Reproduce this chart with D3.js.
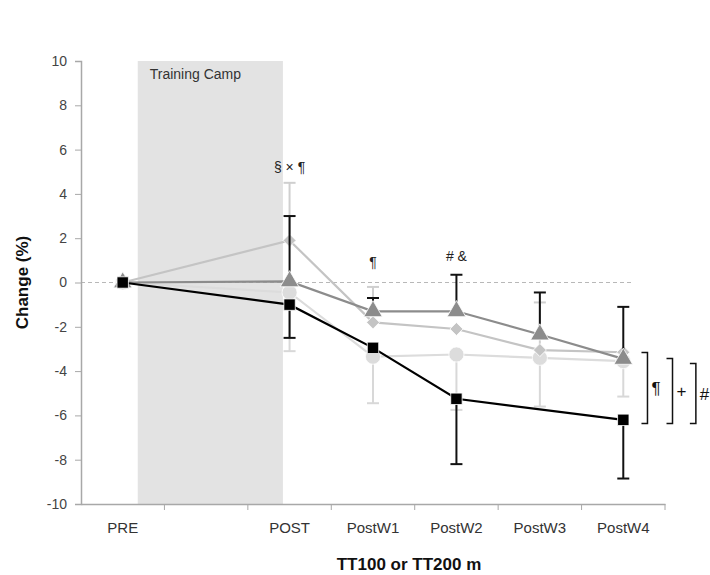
<!DOCTYPE html>
<html>
<head>
<meta charset="utf-8">
<script src="https://cdn.jsdelivr.net/npm/d3@7"></script>
<style>
  body { margin: 0; background: #fff; }
  text { font-family: "Liberation Sans", Arial, sans-serif; }
</style>
</head>
<body>
<script>
// categories (the blank slot is the training camp gap)
const categories = ["PRE", "", "POST", "PostW1", "PostW2", "PostW3", "PostW4"];
const yTicks = [-10, -8, -6, -4, -2, 0, 2, 4, 6, 8, 10];

// series values (change %), null = no point
const circleVals = [0, null, -0.45, -3.35, -3.25, -3.4, -3.55];
const circleErrDown = [0, null, 2.65, 2.1, 2.5, 2.2, 1.6];
const diamondVals = [0, null, 1.9, -1.8, -2.1, -3.05, -3.15];
const diamondErrUp = [0, null, 2.6, 1.6, 0, 2.15, 0];
const triVals = [0, null, 0.05, -1.3, -1.3, -2.35, -3.45];
const triErrUp = [0, null, 2.95, 0.6, 1.65, 1.9, 2.35];
const squareVals = [0, null, -1.0, -2.95, -5.25, null, -6.2];
const squareErrDown = [0, null, 1.5, 0, 2.95, null, 2.65];

// training camp span, in category index units
const campSpan = [0.18, 1.92];

const svg = d3.select("body")
    .append("svg")
    .attr("width", 710)
    .attr("height", 575);

const x = d3.scaleBand()
    .domain(categories.map((d, i) => i))
    .range([81, 665]);

const xi = d3.scaleLinear()
    .domain([0, 6])
    .range([x(0) + x.bandwidth() / 2, x(6) + x.bandwidth() / 2]);

const y = d3.scaleLinear()
    .domain([-10, 10])
    .range([504, 61]);

// shaded training camp
svg.append("rect")
    .attr("x", xi(campSpan[0]))
    .attr("y", y(10))
    .attr("width", xi(campSpan[1]) - xi(campSpan[0]))
    .attr("height", y(-10) - y(10))
    .attr("fill", "#e3e3e3");

svg.append("text")
    .text("Training Camp")
    .attr("x", xi(campSpan[0]) + 12)
    .attr("y", y(10) + 18)
    .style("font-size", "14px")
    .attr("fill", "#333");

// zero dashed line
svg.append("line")
    .attr("x1", x.range()[0])
    .attr("x2", xi(6.12))
    .attr("y1", y(0))
    .attr("y2", y(0))
    .attr("stroke", "#b8b8b8")
    .attr("stroke-width", 1)
    .attr("stroke-dasharray", "4,3");

// y axis
const yAxis = svg.append("g")
    .attr("transform", `translate(${x.range()[0]},0)`)
    .call(d3.axisLeft(y).tickValues(yTicks).tickFormat(d => String(d)).tickSize(6).tickPadding(8));
yAxis.select(".domain").attr("stroke", "#a8a8a8").attr("stroke-width", 1.5);
yAxis.selectAll(".tick line").attr("stroke", "#a8a8a8");
yAxis.selectAll(".tick text")
    .attr("fill", "#444")
    .style("font-size", "14px")
    .style("font-family", "Liberation Sans, Arial, sans-serif");

// x axis
const xAxis = svg.append("g")
    .attr("transform", `translate(0,${y(-10)})`)
    .call(d3.axisBottom(x).tickSize(0).tickFormat(i => categories[i]).tickPadding(18));
xAxis.select(".domain").attr("stroke", "#a8a8a8").attr("stroke-width", 1.5);
xAxis.selectAll(".tick text")
    .attr("fill", "#333")
    .style("font-size", "15px")
    .style("font-family", "Liberation Sans, Arial, sans-serif");
xAxis.selectAll(".bound")
    .data(d3.range(1, categories.length + 1))
    .enter()
    .append("line")
    .attr("x1", i => x(0) + i * x.step())
    .attr("x2", i => x(0) + i * x.step())
    .attr("y1", 0)
    .attr("y2", 6)
    .attr("stroke", "#a8a8a8");

// axis titles
svg.append("text")
    .text("TT100 or TT200 m")
    .attr("x", 409)
    .attr("y", 570)
    .attr("text-anchor", "middle")
    .style("font-size", "17px")
    .style("font-weight", "bold")
    .attr("fill", "#111");

svg.append("text")
    .text("Change (%)")
    .attr("transform", `translate(28,${y(0)}) rotate(-90)`)
    .attr("text-anchor", "middle")
    .style("font-size", "17px")
    .style("font-weight", "bold")
    .attr("fill", "#111");

const series = [
    { vals: circleVals, err: circleErrDown, dir: -1, color: "#dcdcdc", errColor: "#d8d8d8", shape: d3.symbolCircle, size: 180, rot: 0 },
    { vals: diamondVals, err: diamondErrUp, dir: 1, color: "#c4c4c4", errColor: "#cfcfcf", shape: d3.symbolSquare, size: 85, rot: 45 },
    { vals: triVals, err: triErrUp, dir: 1, color: "#8c8c8c", errColor: "#111", shape: d3.symbolTriangle, size: 150, rot: 0 },
    { vals: squareVals, err: squareErrDown, dir: -1, color: "#000", errColor: "#111", shape: d3.symbolSquare, size: 130, rot: 0 }
];

const line = d3.line()
    .x(d => xi(d.i))
    .y(d => y(d.v));

series.forEach(s => {
    const pts = s.vals.map((v, i) => ({ i, v, e: s.err[i] })).filter(d => d.v !== null);
    const g = svg.append("g");

    g.append("path")
        .datum(pts)
        .attr("d", line)
        .attr("fill", "none")
        .attr("stroke", s.color)
        .attr("stroke-width", 2.2);

    const bars = pts.filter(d => d.e > 0);
    g.selectAll(".eb")
        .data(bars)
        .enter()
        .append("line")
        .attr("x1", d => xi(d.i))
        .attr("x2", d => xi(d.i))
        .attr("y1", d => y(d.v))
        .attr("y2", d => y(d.v + s.dir * d.e))
        .attr("stroke", s.errColor)
        .attr("stroke-width", 2);
    g.selectAll(".cap")
        .data(bars)
        .enter()
        .append("line")
        .attr("x1", d => xi(d.i) - 6)
        .attr("x2", d => xi(d.i) + 6)
        .attr("y1", d => y(d.v + s.dir * d.e))
        .attr("y2", d => y(d.v + s.dir * d.e))
        .attr("stroke", s.errColor)
        .attr("stroke-width", 2);

    g.selectAll(".mk")
        .data(pts)
        .enter()
        .append("path")
        .attr("d", d3.symbol().type(s.shape).size(s.size))
        .attr("transform", d => `translate(${xi(d.i)},${y(d.v)}) rotate(${s.rot})`)
        .attr("fill", s.color)
        .attr("stroke", "#fff")
        .attr("stroke-width", 0.8);
});

// significance annotations
const notes = [
    { label: "§ × ¶", i: 2, v: 5.0 },
    { label: "¶", i: 3, v: 0.7 },
    { label: "# &", i: 4, v: 0.95 }
];
svg.selectAll(".note")
    .data(notes)
    .enter()
    .append("text")
    .text(d => d.label)
    .attr("x", d => xi(d.i))
    .attr("y", d => y(d.v))
    .attr("text-anchor", "middle")
    .style("font-size", "14px")
    .attr("fill", "#222");

// brackets on the right
const brackets = [
    { label: "¶", i: 6.29, top: -3.16 },
    { label: "+", i: 6.59, top: -3.43 },
    { label: "#", i: 6.87, top: -3.66 }
];
const bottomVal = -6.37;
brackets.forEach(b => {
    const bx = xi(b.i);
    svg.append("path")
        .attr("d", `M${bx - 6},${y(b.top)}H${bx}V${y(bottomVal)}H${bx - 6}`)
        .attr("fill", "none")
        .attr("stroke", "#111")
        .attr("stroke-width", 1.5);
    svg.append("text")
        .text(b.label)
        .attr("x", bx + 4)
        .attr("y", (y(b.top) + y(bottomVal)) / 2 + 6)
        .style("font-size", "17px")
        .attr("fill", "#111");
});
</script>
</body>
</html>
